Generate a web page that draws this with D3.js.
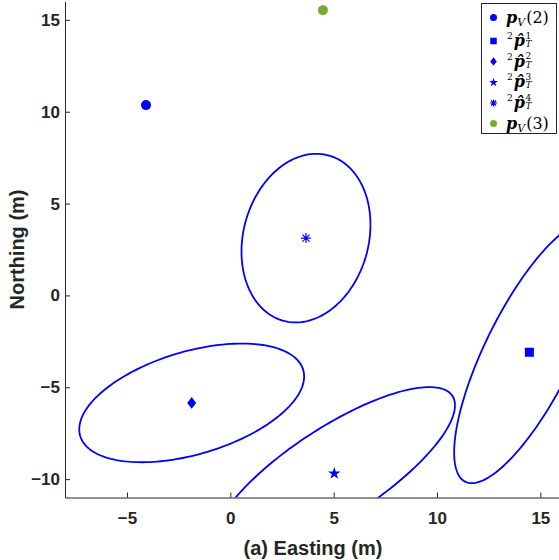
<!DOCTYPE html>
<html>
<head>
<meta charset="utf-8">
<script src="https://d3js.org/d3.v7.min.js"></script>
<style>body { margin: 0; background: #fff; }</style>
</head>
<body>
<svg width="559" height="560"></svg>
<script>
// vehicle positions
var vehicleNames = ["2", "3"];
var vehicleX = [-4.08, 4.48];
var vehicleY = [10.36, 15.53];
var vehicleColors = ["#0000ff", "#77ac30"];

// target estimates with their error ellipses (std x, std y, correlation)
var targetNames = ["1", "2", "3", "4"];
var targetShapes = ["square", "diamond", "star", "asterisk"];
var targetX = [14.47, -1.87, 5.03, 3.66];
var targetY = [-3.10, -5.85, -9.66, 3.12];
var ellipseSx = [3.64, 5.44, 5.84, 3.12];
var ellipseSy = [7.12, 3.23, 4.67, 4.59];
var ellipseRho = [0.765, 0.445, 0.787, 0.16];

var xTicks = [-5, 0, 5, 10, 15];
var yTicks = [-10, -5, 0, 5, 10, 15];

var svg = d3.select("svg");
var axisColor = "#262626";
var blue = "#0000ff";
var sans = "'Liberation Sans', Arial, sans-serif";

var x = d3.scaleLinear().domain([-8, 16]).range([65, 561]);
var y = d3.scaleLinear().domain([-11, 16]).range([497.5, 1.5]);

svg.append("clipPath").attr("id", "plot")
  .append("rect")
  .attr("x", x(-8)).attr("y", y(16))
  .attr("width", x(16) - x(-8)).attr("height", y(-11) - y(16));

// marker paths, size in px
function markerPath(shape, s) {
  var h = s / 2;
  if (shape === "circle") return d3.symbol(d3.symbolCircle, Math.PI * h * h)();
  if (shape === "square") return "M" + (-h) + "," + (-h) + "H" + h + "V" + h + "H" + (-h) + "Z";
  if (shape === "diamond") return "M0," + (-h * 1.3) + "L" + h + ",0L0," + (h * 1.3) + "L" + (-h) + ",0Z";
  if (shape === "star") {
    var pts = [];
    for (var i = 0; i < 10; i++) {
      var r = i % 2 ? h * 0.42 : h * 1.1;
      var a = -Math.PI / 2 + i * Math.PI / 5;
      pts.push([r * Math.cos(a), r * Math.sin(a) + h * 0.1]);
    }
    return "M" + pts.join("L") + "Z";
  }
  if (shape === "asterisk") {
    var d = h * 0.707;
    return "M0," + (-h) + "V" + h + "M" + (-h) + ",0H" + h +
      "M" + (-d) + "," + (-d) + "L" + d + "," + d + "M" + (-d) + "," + d + "L" + d + "," + (-d);
  }
}

function drawMarker(g, shape, cx, cy, s, color) {
  var p = g.append("path")
    .attr("d", markerPath(shape, s))
    .attr("transform", "translate(" + cx + "," + cy + ")");
  if (shape === "asterisk") p.attr("fill", "none").attr("stroke", color).attr("stroke-width", 1.2);
  else p.attr("fill", color);
}

// ellipses
var plot = svg.append("g").attr("clip-path", "url(#plot)");
var ts = d3.range(0, 361, 2).map(function(d) { return d * Math.PI / 180; });
var line = d3.line().x(function(d) { return x(d[0]); }).y(function(d) { return y(d[1]); });

targetX.forEach(function(cx, i) {
  var cy = targetY[i], sx = ellipseSx[i], sy = ellipseSy[i], rho = ellipseRho[i];
  var pts = ts.map(function(t) {
    return [cx + sx * Math.cos(t),
            cy + sy * (rho * Math.cos(t) + Math.sqrt(1 - rho * rho) * Math.sin(t))];
  });
  plot.append("path").attr("d", line(pts))
    .attr("fill", "none").attr("stroke", blue).attr("stroke-width", 1.8);
});

// markers
vehicleX.forEach(function(vx, i) {
  drawMarker(plot, "circle", x(vx), y(vehicleY[i]), 10, vehicleColors[i]);
});
targetX.forEach(function(tx, i) {
  var size = targetShapes[i] === "star" ? 12 : (targetShapes[i] === "asterisk" ? 10 : 9);
  drawMarker(plot, targetShapes[i], x(tx), y(targetY[i]), size, blue);
});

// axes
var xAxis = svg.append("g")
  .attr("transform", "translate(0," + y(-11) + ")")
  .call(d3.axisBottom(x).tickValues(xTicks).tickSizeInner(-5).tickSizeOuter(0).tickPadding(14));
var yAxis = svg.append("g")
  .attr("transform", "translate(" + x(-8) + ",0)")
  .call(d3.axisLeft(y).tickValues(yTicks).tickSizeInner(-5).tickSizeOuter(0).tickPadding(5));

[xAxis, yAxis].forEach(function(a) {
  a.selectAll("path, line").attr("stroke", axisColor);
  a.selectAll("text")
    .attr("fill", axisColor)
    .style("font-family", sans)
    .style("font-weight", "bold")
    .style("font-size", "17px");
});

svg.append("text")
  .attr("x", (x(-8) + x(16)) / 2).attr("y", 555)
  .attr("text-anchor", "middle")
  .attr("fill", axisColor)
  .style("font-family", sans)
  .style("font-weight", "bold").style("font-size", "20px")
  .text("(a) Easting (m)");

svg.append("text")
  .attr("transform", "translate(23.5," + (y(-11) + y(16)) / 2 + ") rotate(-90)")
  .attr("text-anchor", "middle")
  .attr("fill", axisColor)
  .style("font-family", sans)
  .style("font-weight", "bold").style("font-size", "20px")
  .text("Northing (m)");

// legend
var legend = svg.append("g");
legend.append("rect")
  .attr("x", 481.5).attr("y", 3.5).attr("width", 75).attr("height", 130)
  .attr("fill", "#fff").attr("stroke", axisColor).attr("stroke-width", 1);

var serif = "'DejaVu Serif', 'Liberation Serif', serif";
function piece(px, py, str, fs, italic, bold) {
  var t = legend.append("text").attr("x", px).attr("y", py)
    .attr("fill", "#000")
    .style("font-family", serif).style("font-size", fs + "px")
    .style("font-style", italic ? "italic" : "normal")
    .style("font-weight", bold ? "bold" : "normal")
    .text(str);
  return t.node().getComputedTextLength();
}

var rowY = [17.5, 41, 61.5, 82, 103, 123.5];
var markerX = 493.5, textX = 506;

// p_V(2) / p_V(3)
function vehicleLabel(yy, name) {
  var w = piece(textX, yy + 5, "p", 16, true, true);
  var w2 = piece(textX + w, yy + 8, "V", 11, true, false);
  piece(textX + w + w2 + 1, yy + 5, "(" + name + ")", 16, false, false);
}
// ^2 p-hat _T ^k
function targetLabel(yy, name) {
  var w = piece(textX + 1, yy - 2, "2", 9, false, false);
  var wp = piece(textX + w + 2, yy + 5, "p\u0302", 16, true, true);
  var sx = textX + w + 2 + wp + 0.5;
  piece(sx, yy + 6, "T", 9, true, false);
  piece(sx, yy - 2.5, name, 9, false, false);
}

drawMarker(legend, "circle", markerX, rowY[0], 7, vehicleColors[0]);
vehicleLabel(rowY[0], vehicleNames[0]);
targetShapes.forEach(function(shape, i) {
  var s = shape === "star" ? 8.5 : (shape === "asterisk" ? 7 : 6.5);
  drawMarker(legend, shape, markerX, rowY[i + 1], s, blue);
  targetLabel(rowY[i + 1], targetNames[i]);
});
drawMarker(legend, "circle", markerX, rowY[5], 7, vehicleColors[1]);
vehicleLabel(rowY[5], vehicleNames[1]);
</script>
</body>
</html>
